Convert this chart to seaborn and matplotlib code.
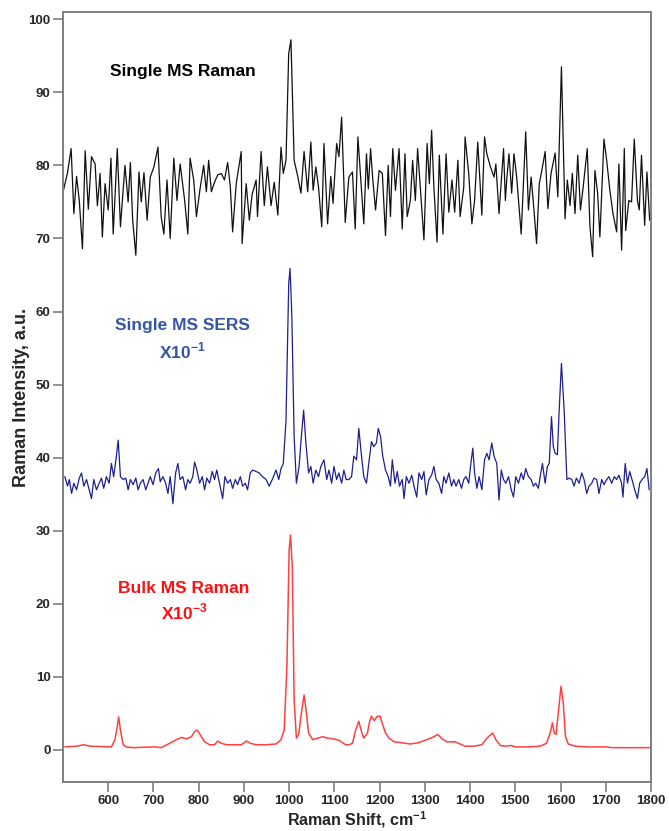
import pandas as pd
import seaborn as sns
from matplotlib import pyplot as plt

# single microsphere, normal Raman (black)
black_shift = [501, 510, 518, 524, 530, 536, 543, 549, 556, 563,
               571, 576, 582, 587, 593, 600, 606, 611, 620, 627,
               637, 644, 649, 654, 661, 668, 673, 679, 686, 693,
               701, 710, 717, 723, 730, 737, 745, 752, 759, 769,
               776, 781, 789, 795, 803, 811, 817, 822, 828, 835,
               842, 850, 857, 864, 870, 875, 883, 894, 896, 905,
               912, 918, 927, 930, 938, 945, 952, 960, 967, 975,
               982, 987, 993, 999, 1004, 1011, 1019, 1026, 1033, 1041,
               1048, 1053, 1059, 1065, 1072, 1077, 1085, 1092, 1097, 1105,
               1110, 1116, 1124,
               1132, 1140, 1146, 1152, 1158, 1165, 1171, 1175, 1180, 1185,
               1191, 1199, 1206, 1213, 1219, 1224, 1229, 1235, 1243, 1250,
               1256, 1261, 1268, 1273, 1279, 1284, 1290, 1298, 1305, 1310,
               1315, 1320, 1327, 1332, 1340, 1347, 1353, 1360, 1366, 1373,
               1378, 1386, 1389, 1397, 1404, 1410, 1417, 1426, 1432, 1437,
               1445, 1453, 1457, 1464, 1474, 1478, 1481, 1486, 1492, 1497,
               1503, 1513, 1523, 1529, 1535, 1541, 1547, 1553, 1558, 1566,
               1572, 1579, 1588, 1594, 1602, 1610, 1615, 1621, 1626, 1632,
               1638, 1644, 1650, 1659, 1665, 1671, 1676, 1682, 1687, 1696,
               1702, 1709, 1716, 1724, 1729, 1735, 1741, 1744, 1751, 1757,
               1763, 1770, 1774, 1779, 1786, 1791, 1797]
black_int = [76.6, 79.0, 82.3, 73.4, 78.5, 75.2, 68.6, 82.0, 74.0, 81.2,
             80.2, 74.5, 78.9, 70.2, 77.5, 73.9, 81.0, 70.6, 82.3, 71.6,
             80.0, 75.0, 80.4, 72.5, 67.7, 79.1, 75.0, 79.0, 72.5, 78.4,
             79.8, 82.5, 73.0, 70.6, 78.0, 70.0, 81.0, 75.2, 80.2, 75.2,
             70.6, 81.0, 78.0, 73.0, 76.8, 80.0, 76.4, 80.7, 76.4, 77.7,
             78.7, 78.9, 78.0, 80.4, 77.0, 70.9, 77.5, 81.9, 69.3, 77.5,
             72.5, 76.0, 78.0, 73.0, 81.9, 74.5, 79.8, 74.5, 77.7, 73.2,
             82.5, 78.9, 80.7, 95.3, 97.2, 80.7, 78.5, 76.2, 81.9, 76.4,
             83.2, 76.6, 79.8, 77.0, 71.6, 83.0, 72.0, 78.5, 74.8, 83.0,
             81.2, 86.6, 72.2,
             78.4, 79.1, 71.3, 83.9, 78.4, 72.0, 81.6, 76.8, 82.3, 78.0,
             73.9, 79.3, 78.9, 70.4, 80.0, 73.0, 82.3, 76.6, 82.3, 71.3,
             81.6, 73.0, 75.2, 80.7, 75.2, 82.3, 77.0, 69.8, 83.0, 77.5,
             84.8, 77.0, 69.5, 81.4, 70.6, 81.6, 73.6, 78.0, 73.6, 80.7,
             73.0, 77.0, 83.9, 78.9, 72.0, 75.2, 83.2, 73.2, 83.9, 81.6,
             79.8, 78.4, 80.2, 73.4, 82.3, 75.2, 78.0, 81.6, 76.2, 81.6,
             78.4, 70.6, 84.6, 73.9, 78.4, 74.1, 69.3, 77.5, 79.1, 81.9,
             74.1, 78.9, 81.7, 75.7, 93.5, 72.7, 78.0, 74.5, 78.9, 73.4,
             81.4, 73.9, 77.0, 82.3, 71.6, 67.5, 79.3, 76.2, 70.2, 83.6,
             80.7, 76.6, 73.4, 70.9, 80.2, 68.4, 82.3, 71.1, 75.2, 75.0,
             83.6, 75.2, 73.9, 81.4, 71.8, 79.1, 72.5]

# single microsphere, SERS, scaled x10^-1 (blue)
blue_shift = [504, 510, 514, 519, 524, 530, 536, 541, 546, 552,
              558, 563, 568, 574, 580, 585, 590, 596, 602, 607,
              612, 617, 622, 627, 633, 639, 644, 649, 655, 661,
              666, 671, 677, 683, 688, 693, 699, 705, 711, 715,
              721, 727, 732, 737, 743, 749, 754, 759, 765, 771,
              776, 781, 787, 791, 796, 802, 808, 813, 818, 824,
              830, 835, 840, 846, 853, 858, 864, 870, 875, 881,
              886, 892, 897, 903, 908, 914, 919, 927, 934, 941,
              949, 956, 964, 971, 977, 982, 987, 993, 999, 1002,
              1006, 1011, 1016, 1022, 1027, 1032, 1037, 1043, 1048, 1053,
              1059, 1065, 1070, 1077, 1083, 1088, 1094, 1099, 1105, 1110,
              1116, 1121, 1126,
              1132, 1138, 1143, 1149, 1154, 1160, 1165, 1171, 1176, 1182,
              1187, 1193, 1197, 1202, 1207, 1213, 1219, 1224, 1228, 1234,
              1239, 1244, 1250, 1254, 1259, 1265, 1271, 1276, 1282, 1287,
              1293, 1298, 1303, 1309, 1315, 1320, 1325, 1331, 1337, 1342,
              1347, 1353, 1359, 1364, 1369, 1375, 1381, 1386, 1391, 1397,
              1401, 1406, 1410, 1415, 1420, 1426, 1432, 1437, 1442, 1448,
              1453, 1459, 1464, 1469, 1474, 1479, 1485, 1491, 1496, 1501,
              1507, 1513, 1518, 1523, 1529, 1535, 1540, 1545, 1551, 1555,
              1560, 1566, 1571, 1575, 1580, 1584, 1588, 1593, 1597, 1602,
              1608, 1614, 1619, 1625, 1630, 1635, 1641, 1647, 1652, 1658,
              1663, 1669, 1674, 1680, 1685, 1691, 1696, 1702, 1707, 1713,
              1719, 1724, 1729, 1735, 1738, 1743, 1748, 1753, 1758, 1764,
              1770, 1775, 1780, 1786, 1791, 1796]
blue_int = [37.4, 36.1, 37.0, 35.1, 36.5, 35.6, 37.2, 37.9, 36.1, 37.0,
            35.6, 34.4, 37.0, 35.6, 36.5, 37.2, 35.8, 37.4, 36.5, 39.2,
            37.4, 39.7, 42.4, 37.4, 37.0, 37.2, 35.6, 37.0, 36.3, 37.2,
            35.6, 36.5, 37.0, 35.6, 36.5, 37.4, 36.3, 37.9, 38.5, 36.7,
            37.4, 36.5, 35.1, 37.4, 33.7, 37.9, 39.2, 37.0, 37.4, 35.6,
            37.0, 36.5, 37.4, 39.4, 38.3, 36.5, 37.4, 35.6, 37.2, 36.5,
            38.1, 37.0, 38.3, 36.5, 34.4, 37.4, 36.5, 37.0, 35.8, 37.0,
            36.3, 37.4, 36.1, 36.5, 35.6, 37.9, 38.3, 38.1, 37.9, 37.4,
            37.0, 36.1, 37.2, 38.3, 37.0, 38.5, 39.2, 45.0, 63.8, 65.9,
            59.3, 42.9, 36.5, 38.8, 42.9, 46.5, 42.0, 37.9, 38.8, 36.5,
            38.3, 37.4, 38.8, 39.7, 37.0, 38.3, 36.5, 38.8, 37.0, 37.9,
            36.5, 38.3, 37.0,
            37.0, 37.4, 40.2, 39.7, 44.0, 40.2, 37.4, 36.5, 39.2, 42.2,
            41.5, 42.0, 44.0, 42.9, 40.2, 38.3, 37.4, 36.1, 39.7, 36.5,
            38.1, 36.1, 37.0, 34.4, 37.4, 36.5, 37.6, 36.1, 34.6, 37.9,
            37.0, 38.1, 34.9, 37.0, 37.6, 38.8, 37.0, 36.5, 35.1, 37.4,
            36.5, 37.9, 36.1, 37.0, 36.1, 37.0, 35.8, 37.0, 37.4, 36.5,
            38.8, 41.3, 37.9, 35.8, 37.4, 35.6, 39.7, 40.6, 39.7, 42.0,
            40.2, 39.2, 34.2, 38.3, 37.0, 36.5, 37.4, 35.6, 34.6, 37.4,
            36.5, 37.9, 37.0, 38.5, 37.4, 37.0, 36.1, 36.5, 35.8, 37.4,
            39.2, 36.5, 38.8, 39.2, 45.6, 41.5, 40.6, 40.4, 46.5, 52.9,
            46.5, 37.0, 37.2, 37.0, 36.1, 37.2, 36.5, 37.9, 37.0, 35.1,
            36.1, 36.5, 37.2, 37.0, 35.1, 37.0, 36.3, 37.0, 37.4, 36.5,
            37.4, 37.0, 37.6, 36.5, 34.6, 39.2, 36.5, 38.1, 37.0, 35.6,
            34.4, 36.5, 37.0, 37.4, 38.5, 35.6]

# bulk microspheres, normal Raman, scaled x10^-3 (red)
red_shift = [504, 530, 545, 560, 607, 615, 620, 623, 627, 633,
             640, 655, 699, 706, 717, 736, 751, 762, 772, 784,
             791, 797, 803, 813, 824, 835, 842, 850, 861, 875,
             894, 906, 914, 927, 949, 971, 982, 989, 995, 1000,
             1003, 1007, 1011, 1016, 1021, 1027, 1033, 1037, 1043, 1052,
             1063, 1074, 1085, 1099, 1110, 1125,
             1132, 1140, 1147, 1154, 1160, 1165, 1173, 1178, 1182, 1188,
             1195, 1201, 1206, 1213, 1221, 1232, 1246, 1268, 1287, 1309,
             1320, 1329, 1338, 1349, 1367, 1378, 1389, 1408, 1426, 1437,
             1450, 1457, 1467, 1478, 1491, 1500, 1529, 1555, 1569, 1577,
             1582, 1586, 1590, 1595, 1601, 1606, 1611, 1617, 1632, 1661,
             1702, 1713, 1757, 1800]
red_int = [0.4, 0.5, 0.7, 0.5, 0.4, 1.4, 3.2, 4.5, 2.7, 0.7,
           0.4, 0.3, 0.4, 0.4, 0.3, 0.9, 1.4, 1.7, 1.5, 1.8,
           2.5, 2.7, 2.1, 1.1, 0.7, 0.7, 1.2, 0.9, 0.7, 0.7,
           0.7, 1.2, 0.9, 0.7, 0.7, 0.8, 1.4, 2.7, 11.4, 27.4,
           29.4, 25.0, 6.8, 1.6, 2.1, 5.0, 7.5, 5.7, 2.3, 1.4,
           1.6, 1.8, 1.6, 1.5, 1.3, 0.7,
           0.7, 0.9, 2.7, 3.9, 2.5, 1.6, 2.3, 3.9, 4.6, 4.0,
           4.6, 4.6, 3.6, 2.3, 1.6, 1.1, 1.0, 0.8, 1.0, 1.5,
           1.8, 2.1, 1.5, 1.1, 1.1, 0.8, 0.5, 0.5, 0.7, 1.6,
           2.3, 1.4, 0.6, 0.5, 0.6, 0.4, 0.4, 0.5, 0.9, 2.3,
           3.7, 2.3, 2.1, 5.0, 8.7, 6.4, 1.8, 0.8, 0.5, 0.4,
           0.4, 0.3, 0.3, 0.3]

x_ticks = list(range(600, 1801, 100))
y_ticks = list(range(0, 101, 10))


def plot_spectrum(ax, shift, intensity, color, lw):
    """
    Draw one spectrum as a plain line
    :param ax: axes
    :param shift: raman shift values
    :param intensity: intensity values
    :param color: line colour
    :param lw: line width
    :return: None
    """
    df = pd.DataFrame({'shift': shift, 'intensity': intensity})
    sns.lineplot(data=df, x='shift', y='intensity', color=color, lw=lw,
                 estimator=None, sort=False, ax=ax)


if __name__ == '__main__':
    sns.set_style('white')
    plt.rcParams['font.family'] = ['Liberation Sans', 'DejaVu Sans']
    plt.rcParams['mathtext.fontset'] = 'custom'
    plt.rcParams['mathtext.rm'] = 'Liberation Sans'
    plt.rcParams['mathtext.bf'] = 'Liberation Sans:bold'

    fig = plt.figure(figsize=(6.69, 8.31), dpi=100)
    ax = fig.add_axes([63 / 669, 1 - 782 / 831, 588 / 669, 770 / 831])

    plot_spectrum(ax, black_shift, black_int, '#111111', 0.9)
    plot_spectrum(ax, blue_shift, blue_int, '#1f1f8f', 0.9)
    plot_spectrum(ax, red_shift, red_int, '#ff4040', 1.1)

    ax.text(765, 92.9, 'Single MS Raman', ha='center', va='center',
            fontsize=12.5, fontweight='bold', color='black')
    ax.text(763, 58.1, 'Single MS SERS', ha='center', va='center',
            fontsize=12.5, fontweight='bold', color='#3456a3')
    ax.text(763, 54.6, r'X10$^{\mathbf{-1}}$', ha='center', va='center',
            fontsize=12.5, fontweight='bold', color='#3456a3')
    ax.text(767, 22.1, 'Bulk MS Raman', ha='center', va='center',
            fontsize=12.5, fontweight='bold', color='#ff1010')
    ax.text(767, 18.8, r'X10$^{\mathbf{-3}}$', ha='center', va='center',
            fontsize=12.5, fontweight='bold', color='#ff1010')

    ax.set_xlim(500, 1800)
    ax.set_ylim(-4.4, 101)
    ax.set_xticks(x_ticks)
    ax.set_yticks(y_ticks)
    ax.tick_params(bottom=True, left=True, direction='out', length=7,
                   width=1.2, color='#7f7f7f', labelsize=9.5, pad=2)
    for lab in ax.get_xticklabels() + ax.get_yticklabels():
        lab.set_fontweight('bold')
    for side in ax.spines.values():
        side.set_color('#7f7f7f')
        side.set_linewidth(1.4)

    ax.set_xlabel(r'Raman Shift, cm$^{\mathbf{-1}}$', fontsize=11.5,
                  fontweight='bold', labelpad=2)
    ax.set_ylabel('Raman Intensity, a.u.', fontsize=13, fontweight='bold',
                  labelpad=-1)

    plt.savefig('out.png', dpi=100)
